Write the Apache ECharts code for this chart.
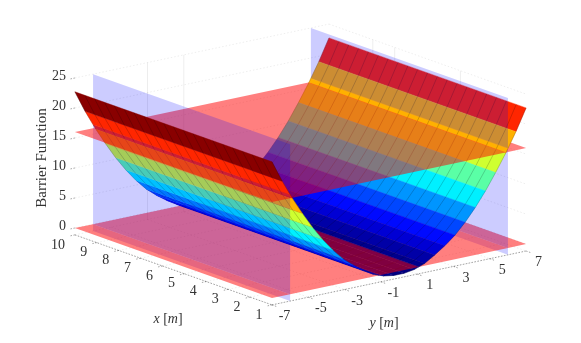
<!DOCTYPE html>
<html>
<head>
<meta charset="utf-8">
<title>Barrier Function</title>
<script src="https://cdn.jsdelivr.net/npm/echarts@6/dist/echarts.min.js"></script>
<style>
	html, body { margin: 0; padding: 0; background: #fff; }
	#chart { width: 581px; height: 343px; }
</style>
</head>
<body>
<div id="chart"></div>
<script>
// Values
const xTicks = [1, 2, 3, 4, 5, 6, 7, 8, 9, 10];
const yTicks = [-7, -5, -3, -1, 1, 3, 5, 7];
const zTicks = [0, 5, 10, 15, 20, 25];
const xNodes = [1, 1.45, 1.9, 2.35, 2.8, 3.25, 3.7, 4.15, 4.6, 5.05, 5.5, 5.95, 6.4, 6.85, 7.3, 7.75, 8.2, 8.65, 9.1, 9.55, 10];
const yNodes = [-7, -6.44, -5.88, -5.32, -4.76, -4.2, -3.64, -3.08, -2.52, -1.96, -1.4, -0.84, -0.28,
	0.28, 0.84, 1.4, 1.96, 2.52, 3.08, 3.64, 4.2, 4.76, 5.32, 5.88, 6.44, 7];
const barrierValues = [22.7, 19.1, 15.9, 13, 10.3, 7.9, 5.8, 4, 2.6, 1.4, 0.35, -0.28, -0.55,
	-0.55, -0.28, 0.35, 1.4, 2.6, 4, 5.8, 7.9, 10.3, 13, 15.9, 19.1, 22.7];
const horizontalPlanes = [0, 16];
const verticalPlanes = [-6, 6];
// grid lines that show on the back walls
const backWallY = [-3, -1];
const backWallX = [8, 7, 4];
const jetColors = ['rgb(0,0,128)', 'rgb(0,0,255)', 'rgb(0,128,255)', 'rgb(0,255,255)', 'rgb(128,255,128)',
	'rgb(255,255,0)', 'rgb(255,128,0)', 'rgb(255,0,0)', 'rgb(128,0,0)'];

const zFloor = -1.15, zTop = 25;
const serif = '"Liberation Serif", serif';
const zMin = Math.min.apply(null, barrierValues), zMax = 22.9;

// Orthographic view of the box, origin is x=1, y=-7, z=0
function project(x, y, z) {
	return [272 - 21.9 * (x - 1) + 18.15 * (y + 7), 298 - 7.78 * (x - 1) - 3.85 * (y + 7) - 6 * z];
}

// Painter's order: split by the planes, far slab first, low slab first
function ySlab(y) { return y > 6 ? 0 : (y > -6 ? 20 : 40); }
function zSlab(z) { return z < 0 ? 0 : (z < 16 ? 2 : 4); }

var pieces = [];

function addSurfaceStrip(y0, z0, y1, z1, color) {
	// cut points along the strip where it crosses a plane
	var cuts = [0, 1];
	verticalPlanes.forEach(function (p) {
		var t = (p - y0) / (y1 - y0);
		if (t > 0 && t < 1) cuts.push(t);
	});
	horizontalPlanes.forEach(function (p) {
		var t = (p - z0) / (z1 - z0);
		if (t > 0 && t < 1) cuts.push(t);
	});
	cuts.sort(function (a, b) { return a - b; });
	for (var i = 0; i < cuts.length - 1; i++) {
		var a = cuts[i], b = cuts[i + 1];
		var ya = y0 + (y1 - y0) * a, yb = y0 + (y1 - y0) * b;
		var za = z0 + (z1 - z0) * a, zb = z0 + (z1 - z0) * b;
		pieces.push({
			kind: 'strip', key: ySlab((ya + yb) / 2) + zSlab((za + zb) / 2), order: -(ya + yb),
			ya: ya, za: za, yb: yb, zb: zb, color: color
		});
	}
}

yNodes.slice(0, -1).forEach(function (y, i) {
	var t = (barrierValues[i] - zMin) / (zMax - zMin);
	addSurfaceStrip(y, barrierValues[i], yNodes[i + 1], barrierValues[i + 1], echarts.color.lerp(t, jetColors));
});

// Red planes, one piece in each y slab
[[6, 7], [-6, 6], [-7, -6]].forEach(function (r) {
	horizontalPlanes.forEach(function (z) {
		pieces.push({
			kind: 'plane', key: ySlab((r[0] + r[1]) / 2) + (z === 0 ? 1 : 3), order: 0, color: 'rgba(255,0,0,0.5)',
			points: [[1, r[0], z], [10, r[0], z], [10, r[1], z], [1, r[1], z]]
		});
	});
});

// Blue planes sit between the slabs
verticalPlanes.forEach(function (y) {
	pieces.push({
		kind: 'plane', key: y > 0 ? 10 : 30, order: 0, color: 'rgba(0,0,255,0.2)',
		points: [[1, y, zFloor], [10, y, zFloor], [10, y, zTop], [1, y, zTop]]
	});
});

pieces.sort(function (a, b) { return a.key - b.key || a.order - b.order; });

function toPixels(api, p) {
	return api.coord(project(p[0], p[1], p[2]));
}

function line(api, a, b, style) {
	var p = toPixels(api, a), q = toPixels(api, b);
	return {
		type: 'line', silent: true,
		shape: { x1: p[0], y1: p[1], x2: q[0], y2: q[1] },
		style: Object.assign({ fill: null }, style)
	};
}

function label(api, at, dx, dy, text, extra) {
	var p = toPixels(api, at);
	return {
		type: 'text', silent: true, x: p[0] + dx, y: p[1] + dy,
		style: Object.assign({ text: String(text), font: '14px ' + serif, fill: '#333', align: 'center', verticalAlign: 'middle' }, extra)
	};
}

function renderAxes(params, api) {
	var children = [];
	var dotted = { stroke: 'rgba(0,0,0,0.12)', lineWidth: 0.6, lineDash: [1.5, 2] };
	var solid = { stroke: 'rgba(0,0,0,0.1)', lineWidth: 0.7 };
	var axis = { stroke: 'rgba(0,0,0,0.5)', lineWidth: 0.7, lineDash: [1.5, 1.5] };

	// back walls and floor grid
	zTicks.forEach(function (z) {
		children.push(line(api, [10, -7, z], [10, 7, z], dotted));
		children.push(line(api, [10, 7, z], [1, 7, z], dotted));
	});
	backWallY.forEach(function (y) {
		children.push(line(api, [10, y, zFloor], [10, y, zTop], solid));
	});
	backWallX.forEach(function (x) {
		children.push(line(api, [x, 7, zFloor], [x, 7, zTop], solid));
	});
	yTicks.forEach(function (y) {
		children.push(line(api, [10, y, zFloor], [1, y, zFloor], dotted));
	});
	xTicks.forEach(function (x) {
		children.push(line(api, [x, -7, zFloor], [x, 7, zFloor], dotted));
	});

	// floor axes and their ticks
	children.push(line(api, [10, -7, zFloor], [1, -7, zFloor], axis));
	children.push(line(api, [1, -7, zFloor], [1, 7, zFloor], axis));
	xTicks.forEach(function (x) {
		children.push(line(api, [x, -7, zFloor], [x, -7.25, zFloor], axis));
		children.push(label(api, [x, -7, zFloor], x === 10 ? -17 : -13, 10, x));
	});
	yTicks.forEach(function (y) {
		children.push(line(api, [1, y, zFloor], [0.75, y, zFloor], axis));
		children.push(label(api, [1, y, zFloor], 12.5, 11.5, y));
	});
	zTicks.forEach(function (z) {
		children.push(line(api, [10, -7, z], [10, -7.25, z], axis));
		children.push(label(api, [10, -7, z], -9, -2, z, { align: 'right' }));
	});
	return { type: 'group', children: children };
}

function renderPiece(params, api) {
	var piece = pieces[api.value(0)];
	if (piece.kind === 'plane') {
		return {
			type: 'polygon', silent: true,
			shape: { points: piece.points.map(function (p) { return toPixels(api, p); }) },
			style: { fill: piece.color }
		};
	}
	var children = [{
		type: 'polygon', silent: true,
		shape: {
			points: [[1, piece.ya, piece.za], [10, piece.ya, piece.za], [10, piece.yb, piece.zb], [1, piece.yb, piece.zb]]
				.map(function (p) { return toPixels(api, p); })
		},
		style: { fill: piece.color, stroke: piece.color, lineWidth: 0.4 }
	}];
	// mesh lines across the strip
	xNodes.forEach(function (x) {
		children.push(line(api, [x, piece.ya, piece.za], [x, piece.yb, piece.zb], { stroke: 'rgba(0,0,0,0.36)', lineWidth: 0.5 }));
	});
	return { type: 'group', children: children };
}

function renderTitles(params, api) {
	var wrap = { i: { font: 'italic 14px ' + serif, fill: '#333' } };
	var titles = [
		{ type: 'text', silent: true, x: api.coord([42, 158])[0], y: api.coord([42, 158])[1], rotation: Math.PI / 2,
			style: { text: 'Barrier Function', font: '15px ' + serif, fill: '#333', align: 'center', verticalAlign: 'middle' } },
		{ type: 'text', silent: true, x: api.coord([168, 319])[0], y: api.coord([168, 319])[1],
			style: { text: '{i|x} [{i|m}]', font: '14px ' + serif, fill: '#333', align: 'center', verticalAlign: 'middle', rich: wrap } },
		{ type: 'text', silent: true, x: api.coord([384, 323])[0], y: api.coord([384, 323])[1],
			style: { text: '{i|y} [{i|m}]', font: '14px ' + serif, fill: '#333', align: 'center', verticalAlign: 'middle', rich: wrap } }
	];
	return { type: 'group', children: titles };
}

const chart = echarts.init(document.getElementById('chart'), null, { renderer: 'canvas' });
chart.setOption({
	animation: false,
	backgroundColor: '#fff',
	grid: { left: 0, right: 0, top: 0, bottom: 0 },
	xAxis: { type: 'value', min: 0, max: 581, show: false },
	yAxis: { type: 'value', min: 0, max: 343, inverse: true, show: false },
	series: [
		{ type: 'custom', coordinateSystem: 'cartesian2d', clip: false, silent: true, z: 1, data: [[0]], renderItem: renderAxes, encode: { x: 0 } },
		{ type: 'custom', coordinateSystem: 'cartesian2d', clip: false, silent: true, z: 2, progressive: 0,
			data: pieces.map(function (p, i) { return [i]; }), renderItem: renderPiece, encode: { x: 0 } },
		{ type: 'custom', coordinateSystem: 'cartesian2d', clip: false, silent: true, z: 3, data: [[0]], renderItem: renderTitles, encode: { x: 0 } }
	]
});
</script>
</body>
</html>
